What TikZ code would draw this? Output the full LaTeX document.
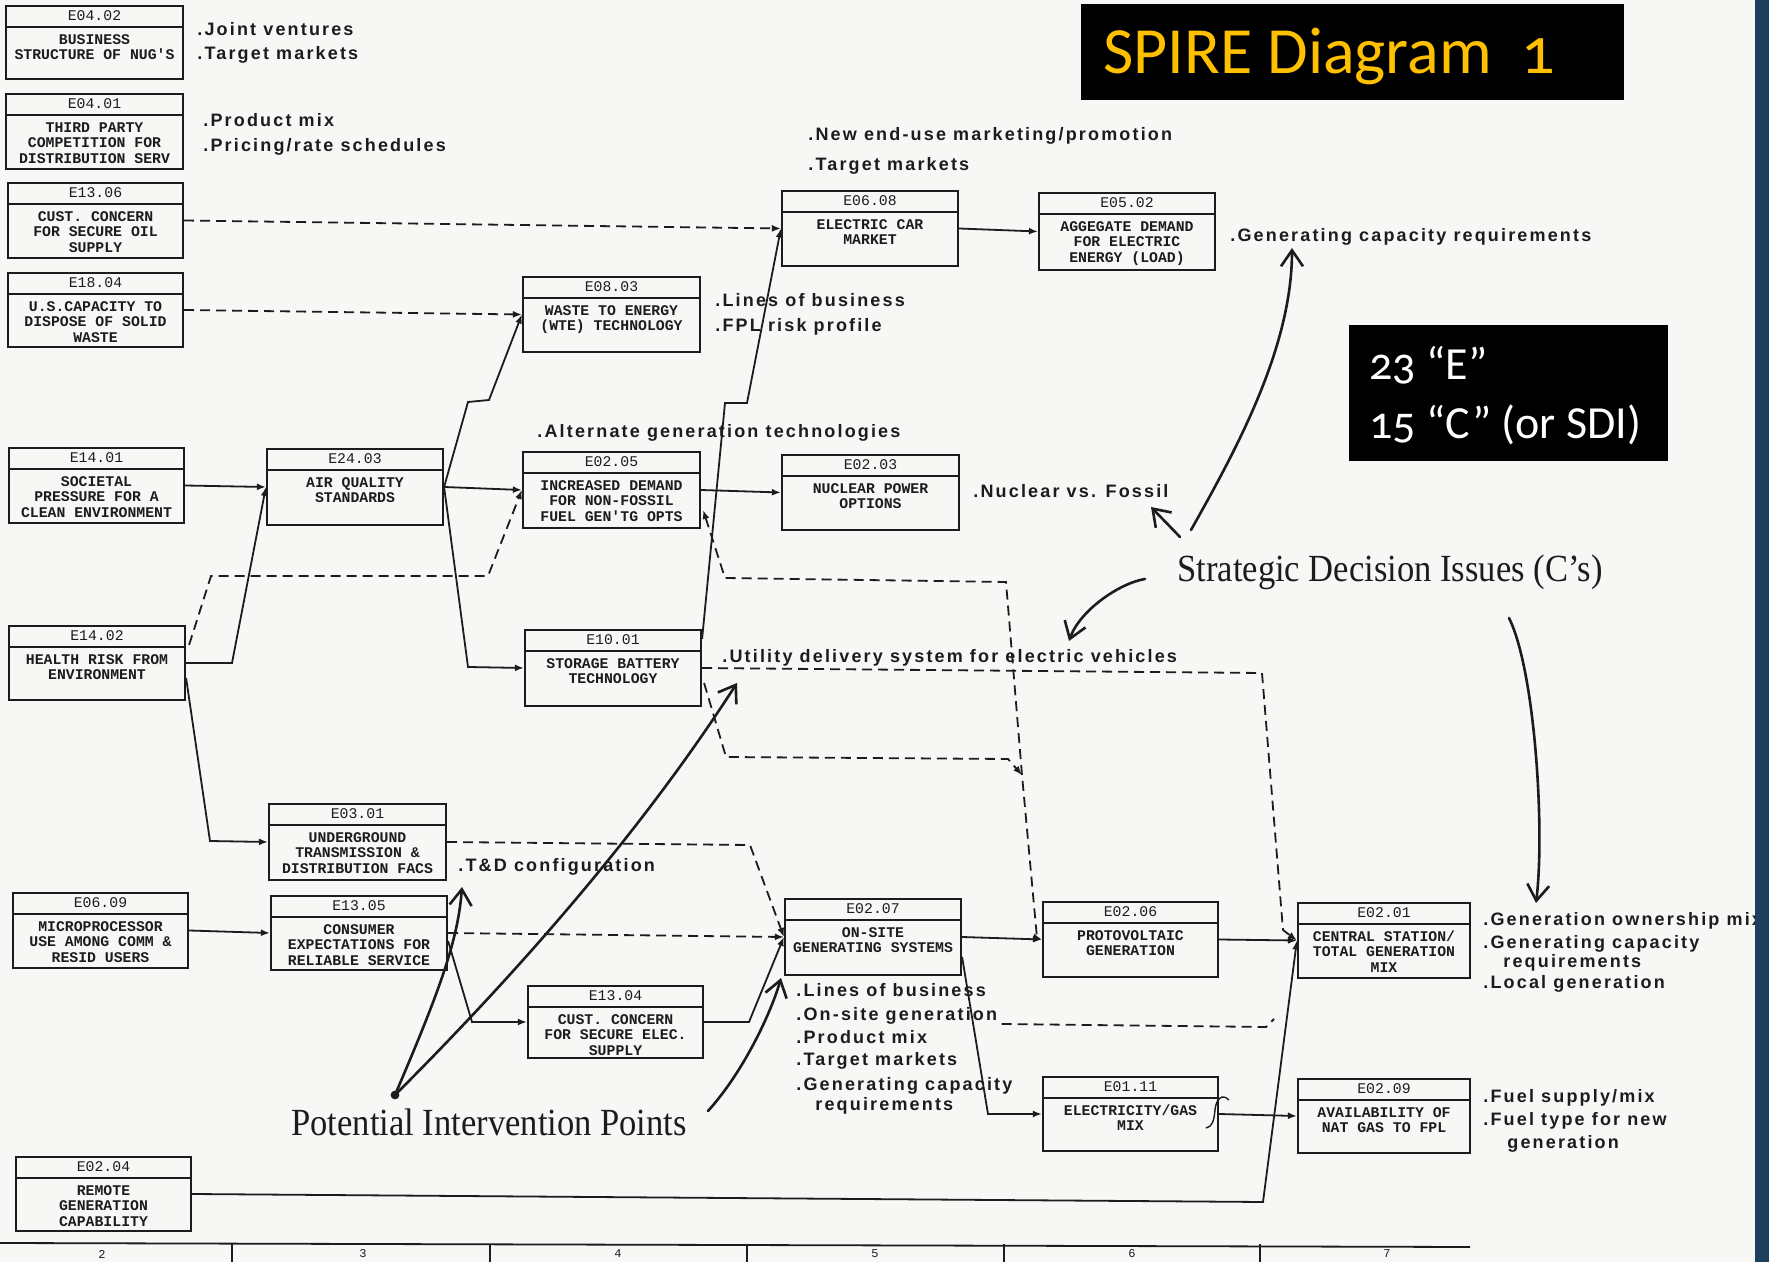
\documentclass[tikz,border=0pt]{standalone}
\usepackage{fontspec}
\usetikzlibrary{arrows.meta,calc,fit}
\newfontfamily\monof{Liberation Mono}
\newfontfamily\lblf[LetterSpace=12]{Liberation Sans}
\newfontfamily\serf[FakeStretch=0.9]{Liberation Serif}
\newfontfamily\calf[Numbers=OldStyle]{Carlito}
\definecolor{paper}{RGB}{247,247,245}
\definecolor{ink}{RGB}{28,28,28}
\definecolor{navy}{RGB}{27,63,92}
\definecolor{gold}{RGB}{255,192,0}

\tikzset{
  x={(0.5pt,0pt)}, y={(0pt,-0.5pt)},
  >={Latex[length=4.5pt,width=3.5pt]},
  ebox/.style={draw=ink, line width=1.1pt, inner sep=0pt, rectangle},
  ebox line/.style={draw=ink, line width=0.8pt},
  ehead/.style={font=\monof\fontsize{7.4}{7.75}\selectfont, text=ink, inner sep=0pt},
  ebody/.style={font=\monof\bfseries\fontsize{7.4}{7.75}\selectfont, text=ink, align=center, inner sep=0pt},
  con/.style={draw=ink, line width=0.9pt, ->},
  dcon/.style={con, dash pattern=on 5pt off 3pt},
  dline/.style={draw=ink, line width=0.9pt, dash pattern=on 5pt off 3pt},
  lbl/.style={font=\lblf\bfseries\fontsize{9}{10}\selectfont, text=ink, anchor=base west, inner sep=0pt},
  hand/.style={draw=ink, line width=1.3pt, line cap=round, -{Straight Barb[length=8pt,width=11pt,line width=1.3pt]}},
  big/.style={font=\serf\fontsize{19.2}{21}\selectfont, text=ink, anchor=base west, inner sep=0pt},
  axisnum/.style={font=\monof\fontsize{6}{6}\selectfont, text=ink, inner sep=0pt},
}

% event box: name, corner 1, corner 2, code, description
\newcommand\ebox[7]{%
  \coordinate (#1-a) at (#2,#3);
  \coordinate (#1-b) at (#4,#5);
  \node[ebox, fit=(#1-a)(#1-b)] (#1) {};
  \draw[ebox line] ($(#1.north west)+(0,22)$) -- ($(#1.north east)+(0,22)$);
  \node[ehead] (#1-code) at ($(#1.north)+(0,11)$) {#6};
  \node[ebody, anchor=north] (#1-text) at ($(#1.north)+(0,28)$) {\strut#7};
}

\begin{document}
\begin{tikzpicture}
\useasboundingbox (0,0) rectangle (1769,1262);
\fill[paper] (0,0) rectangle (1769,1262);

% ---- event boxes
\ebox{e0402}{6}{6}{183}{79}{E04.02}{BUSINESS\\STRUCTURE OF NUG'S}
\ebox{e0401}{6}{94}{183}{169}{E04.01}{THIRD PARTY\\COMPETITION FOR\\DISTRIBUTION SERV}
\ebox{e1306}{8}{183}{183}{258}{E13.06}{CUST. CONCERN\\FOR SECURE OIL\\SUPPLY}
\ebox{e1804}{8}{273}{183}{347}{E18.04}{U.S.CAPACITY TO\\DISPOSE OF SOLID\\WASTE}
\ebox{e1401}{9}{448}{184}{523}{E14.01}{SOCIETAL\\PRESSURE FOR A\\CLEAN ENVIRONMENT}
\ebox{e2403}{267}{449}{443}{525}{E24.03}{AIR QUALITY\\STANDARDS}
\ebox{e1402}{9}{626}{185}{700}{E14.02}{HEALTH RISK FROM\\ENVIRONMENT}
\ebox{e0803}{523}{277}{700}{352}{E08.03}{WASTE TO ENERGY\\(WTE) TECHNOLOGY}
\ebox{e0205}{523}{452}{700}{528}{E02.05}{INCREASED DEMAND\\FOR NON-FOSSIL\\FUEL GEN'TG OPTS}
\ebox{e1001}{525}{630}{701}{706}{E10.01}{STORAGE BATTERY\\TECHNOLOGY}
\ebox{e0608}{782}{191}{958}{266}{E06.08}{ELECTRIC CAR\\MARKET}
\ebox{e0502}{1039}{193}{1215}{270}{E05.02}{AGGEGATE DEMAND\\FOR ELECTRIC\\ENERGY (LOAD)}
\ebox{e0203}{782}{455}{959}{530}{E02.03}{NUCLEAR POWER\\OPTIONS}
\ebox{e0301}{269}{804}{446}{880}{E03.01}{UNDERGROUND\\TRANSMISSION \&\\DISTRIBUTION FACS}
\ebox{e0609}{13}{893}{188}{968}{E06.09}{MICROPROCESSOR\\USE AMONG COMM \&\\RESID USERS}
\ebox{e1305}{271}{896}{447}{970}{E13.05}{CONSUMER\\EXPECTATIONS FOR\\RELIABLE SERVICE}
\ebox{e1304}{528}{986}{703}{1058}{E13.04}{CUST. CONCERN\\FOR SECURE ELEC.\\SUPPLY}
\ebox{e0207}{785}{899}{961}{975}{E02.07}{ON-SITE\\GENERATING SYSTEMS}
\ebox{e0206}{1043}{902}{1218}{977}{E02.06}{PROTOVOLTAIC\\GENERATION}
\ebox{e0111}{1043}{1077}{1218}{1151}{E01.11}{ELECTRICITY/GAS\\MIX}
\ebox{e0201}{1298}{903}{1470}{978}{E02.01}{CENTRAL STATION/\\TOTAL GENERATION\\MIX}
\ebox{e0209}{1298}{1079}{1470}{1153}{E02.09}{AVAILABILITY OF\\NAT GAS TO FPL}
\ebox{e0204}{16}{1157}{191}{1231}{E02.04}{REMOTE\\GENERATION\\CAPABILITY}

% ---- solid influence links
\draw[con] (e1401.east) -- (e2403.west);
\draw[con] (e1402.east) -- (232,663) -- (e2403.west);
\draw[con] (e2403.east) -- (468,402) -- (489,400) -- (e0803.west);
\draw[con] (e2403.east) -- (e0205.west);
\draw[con] (e2403.east) -- (468,667) -- (e1001.west);
\draw[con] (e0205.east) -- (e0203.west);
\draw[con] ($(e1001.north east)+(0,10)$) -- (725,403) -- (747,403) -- (e0608.west);
\draw[con] (e0608.east) -- (e0502.west);
\draw[con] ($(e1402.east)+(0,15)$) -- (210,841) -- (e0301.west);
\draw[con] (e0609.east) -- (e1305.west);
\draw[con] ($(e1305.east)+(0,8)$) -- (472,1022) -- (e1304.west);
\draw[con] (e1304.east) -- (749,1022) -- (e0207.west);
\draw[con] (e0207.east) -- (e0206.west);
\draw[con] ($(e0207.east)+(0,20)$) -- (988,1114) -- (e0111.west);
\draw[con] (e0206.east) -- (e0201.west);
\draw[con] (e0111.east) -- (e0209.west);
\draw[con] (e0204.east) -- (1263,1202) -- (e0201.west);

% ---- dashed influence links
\coordinate (pvjoin) at (1022,775);
\draw[dcon] (e1306.east) -- (e0608.west);
\draw[dcon] (e1804.east) -- (e0803.west);
\draw[dcon] ($(e1402.north east)+(3,20)$) -- (211,576) -- (488,576) -- (e0205.west);
\draw[dcon] (e0301.east) -- (750,845) -- (e0207.west);
\draw[dcon] (e1305.east) -- (e0207.west);
\draw[dcon,<->] ($(e0205.east)+(2,20)$) -- (725,578) -- (1006,582) -- (pvjoin) -- (1037,938) -- (e0206.west);
\draw[dcon] (e1001.east) -- (1262,673) -- (1283,930) -- (e0201.west);
\draw[dcon] ($(e1001.east)+(2,15)$) -- (726,757) -- (1008,759) -- (pvjoin);

% small pen mark at the gas-mix box
\draw[ink, line width=0.7pt] (1229,1100) .. controls (1222,1093) and (1216,1099) .. (1215,1110)
  .. controls (1214,1121) and (1212,1127) .. (1206,1128);

% ---- issue labels
\node[lbl] (l01) at (197,36) {.Joint ventures};
\node[lbl] (l02) at (197,60) {.Target markets};
\node[lbl] (l03) at (203,127) {.Product mix};
\node[lbl] (l04) at (203,152) {.Pricing/rate schedules};
\node[lbl] (l05) at (808,141) {.New end-use marketing/promotion};
\node[lbl] (l06) at (808,171) {.Target markets};
\node[lbl] (l07) at (715,307) {.Lines of business};
\node[lbl] (l08) at (715,332) {.FPL risk profile};
\node[lbl] (l09) at (537,438) {.Alternate generation technologies};
\node[lbl] (l10) at (1230,242) {.Generating capacity requirements};
\node[lbl] (l11) at (973,498) {.Nuclear vs. Fossil};
\node[lbl] (l12) at (722,663) {.Utility delivery system for electric vehicles};
\node[lbl] (l13) at (458,871) {.T\&D configuration};
\node[lbl] (l14) at (796,996) {.Lines of business};
\node[lbl] (l15) at (796,1020) {.On-site generation};
\node[lbl] (l16) at (796,1043) {.Product mix};
\node[lbl] (l17) at (796,1065) {.Target markets};
\node[lbl] (l18) at (796,1090) {.Generating capacity};
\node[lbl] (l19) at (815,1110) {requirements};
\node[lbl] (l20) at (1483,925) {.Generation ownership mix};
\node[lbl] (l21) at (1483,948) {.Generating capacity};
\node[lbl] (l22) at (1503,967) {requirements};
\node[lbl] (l23) at (1483,988) {.Local generation};
\node[lbl] (l24) at (1483,1102) {.Fuel supply/mix};
\node[lbl] (l25) at (1483,1125) {.Fuel type for new};
\node[lbl] (l26) at (1507,1148) {generation};

% on-site generation note tied to the remote-generation link
\draw[dline] (l15.base east) ++(4,4) -- (1266,1027) -- (1274,1019);

% ---- bottom column scale
\draw[ink, line width=0.9pt] (0,1243) -- (1470,1247);
\foreach \x in {232,490,747,1004,1260} \draw[ink, line width=0.9pt] (\x,1244) -- (\x,1262);
\foreach \x/\n in {102/2,363/3,618/4,875/5,1132/6,1387/7}
  \node[axisnum] (col\n) at (\x,1254) {\n};

% ---- hand-written annotations
\node[big] (pip) at (291,1135) {Potential Intervention Points};
\node[big] (sdi) at (1177,582) {Strategic Decision Issues (C’s)};
\coordinate (pipdot) at (395,1095);
\fill[ink] (pipdot) circle (2.2pt);
\draw[hand] (pipdot) .. controls (440,990) and (458,940) .. (462,887);
\draw[hand] (pipdot) .. controls (545,945) and (656,809) .. (737,683);
\draw[hand] (708,1111) .. controls (745,1070) and (772,1010) .. (781,978);
\draw[hand] (1191,530) .. controls (1236,450) and (1292,348) .. (1292,248);
\draw[hand] (1180,537) -- (1151,507);
\draw[hand] (1145,579) .. controls (1120,583) and (1080,610) .. (1069,641);
\draw[hand] (1509,618) .. controls (1535,670) and (1545,830) .. (1536,903);

% ---- title and counts
\fill[black] (1081,4) rectangle (1624,100);
\node[font=\calf\fontsize{33}{36}\selectfont, text=gold, anchor=base west, inner sep=0pt] (title) at (1103,74) {SPIRE Diagram\hspace{0.45em}1};
\fill[black] (1349,325) rectangle (1668,461);
\node[font=\calf\fontsize{23}{26}\selectfont, text=white, anchor=base west, inner sep=0pt] (cnt1) at (1369,380) {23 “E”};
\node[font=\calf\fontsize{23}{26}\selectfont, text=white, anchor=base west, inner sep=0pt] (cnt2) at (1369,439) {15 “C” (or SDI)};

% slide edge
\fill[navy] (1755,0) rectangle (1769,1262);
\end{tikzpicture}
\end{document}
